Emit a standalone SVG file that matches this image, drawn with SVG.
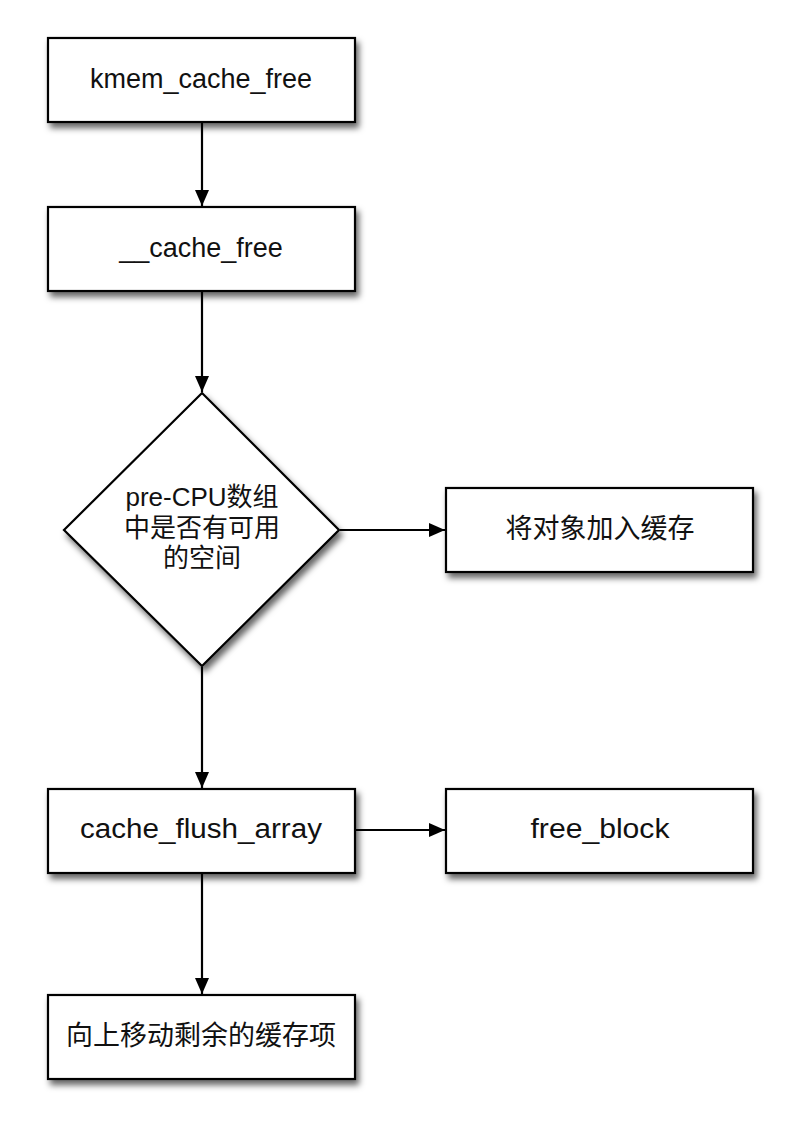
<svg xmlns="http://www.w3.org/2000/svg" width="800" height="1134" viewBox="0 0 800 1134">
<style>
.n{fill:#fff;stroke:#000;stroke-width:2.2;filter:url(#sh)}
.t{font-family:"Liberation Sans","Noto Sans CJK SC",sans-serif;font-size:27px;fill:#111;text-anchor:middle;dominant-baseline:central}
.c{font-family:"Liberation Sans","Noto Sans CJK SC",sans-serif;font-size:26px;fill:#111;text-anchor:middle}
.e{stroke:#000;stroke-width:2.2;fill:none;marker-end:url(#ah)}
</style>
<defs>
<filter id="sh" x="-20%" y="-20%" width="150%" height="150%">
<feDropShadow dx="3" dy="5" stdDeviation="3" flood-color="#000" flood-opacity="0.6"/>
</filter>
<marker id="ah" markerWidth="16" markerHeight="14" refX="16" refY="7" orient="auto" markerUnits="userSpaceOnUse">
<path d="M0,0 L16,7 L0,14 Z" fill="#000"/>
</marker>
</defs>
<rect width="800" height="1134" fill="#fff"/>
<g id="connectors">
<line class="e" x1="202" y1="123" x2="202" y2="206"/>
<line class="e" x1="202" y1="292" x2="202" y2="392"/>
<line class="e" x1="340" y1="530" x2="445" y2="530"/>
<line class="e" x1="202" y1="667" x2="202" y2="788"/>
<line class="e" x1="356" y1="830" x2="445" y2="830"/>
<line class="e" x1="202" y1="874" x2="202" y2="994"/>
</g>
<g id="kmem_cache_free">
<rect class="n" x="48" y="38" width="307" height="84"/>
<text class="t" x="201" y="79">kmem_cache_free</text>
</g>
<g id="__cache_free">
<rect class="n" x="48" y="207" width="307" height="84"/>
<text class="t" x="201" y="248">__cache_free</text>
</g>
<g id="decision">
<polygon class="n" points="202,393 339,530 202,666 64,530"/>
<text class="c" x="202" y="506">pre-CPU数组</text>
<text class="c" x="202" y="537">中是否有可用</text>
<text class="c" x="202" y="567">的空间</text>
</g>
<g id="add_cache">
<rect class="n" x="446" y="488" width="307" height="84"/>
<text class="t" x="600" y="529">将对象加入缓存</text>
</g>
<g id="cache_flush_array">
<rect class="n" x="48" y="789" width="307" height="84"/>
<text class="t" x="201" y="829" textLength="242" lengthAdjust="spacingAndGlyphs">cache_flush_array</text>
</g>
<g id="free_block">
<rect class="n" x="446" y="789" width="307" height="84"/>
<text class="t" x="600" y="829" textLength="139" lengthAdjust="spacingAndGlyphs">free_block</text>
</g>
<g id="move_up">
<rect class="n" x="48" y="995" width="307" height="84"/>
<text class="t" x="201" y="1036">向上移动剩余的缓存项</text>
</g>
</svg>
